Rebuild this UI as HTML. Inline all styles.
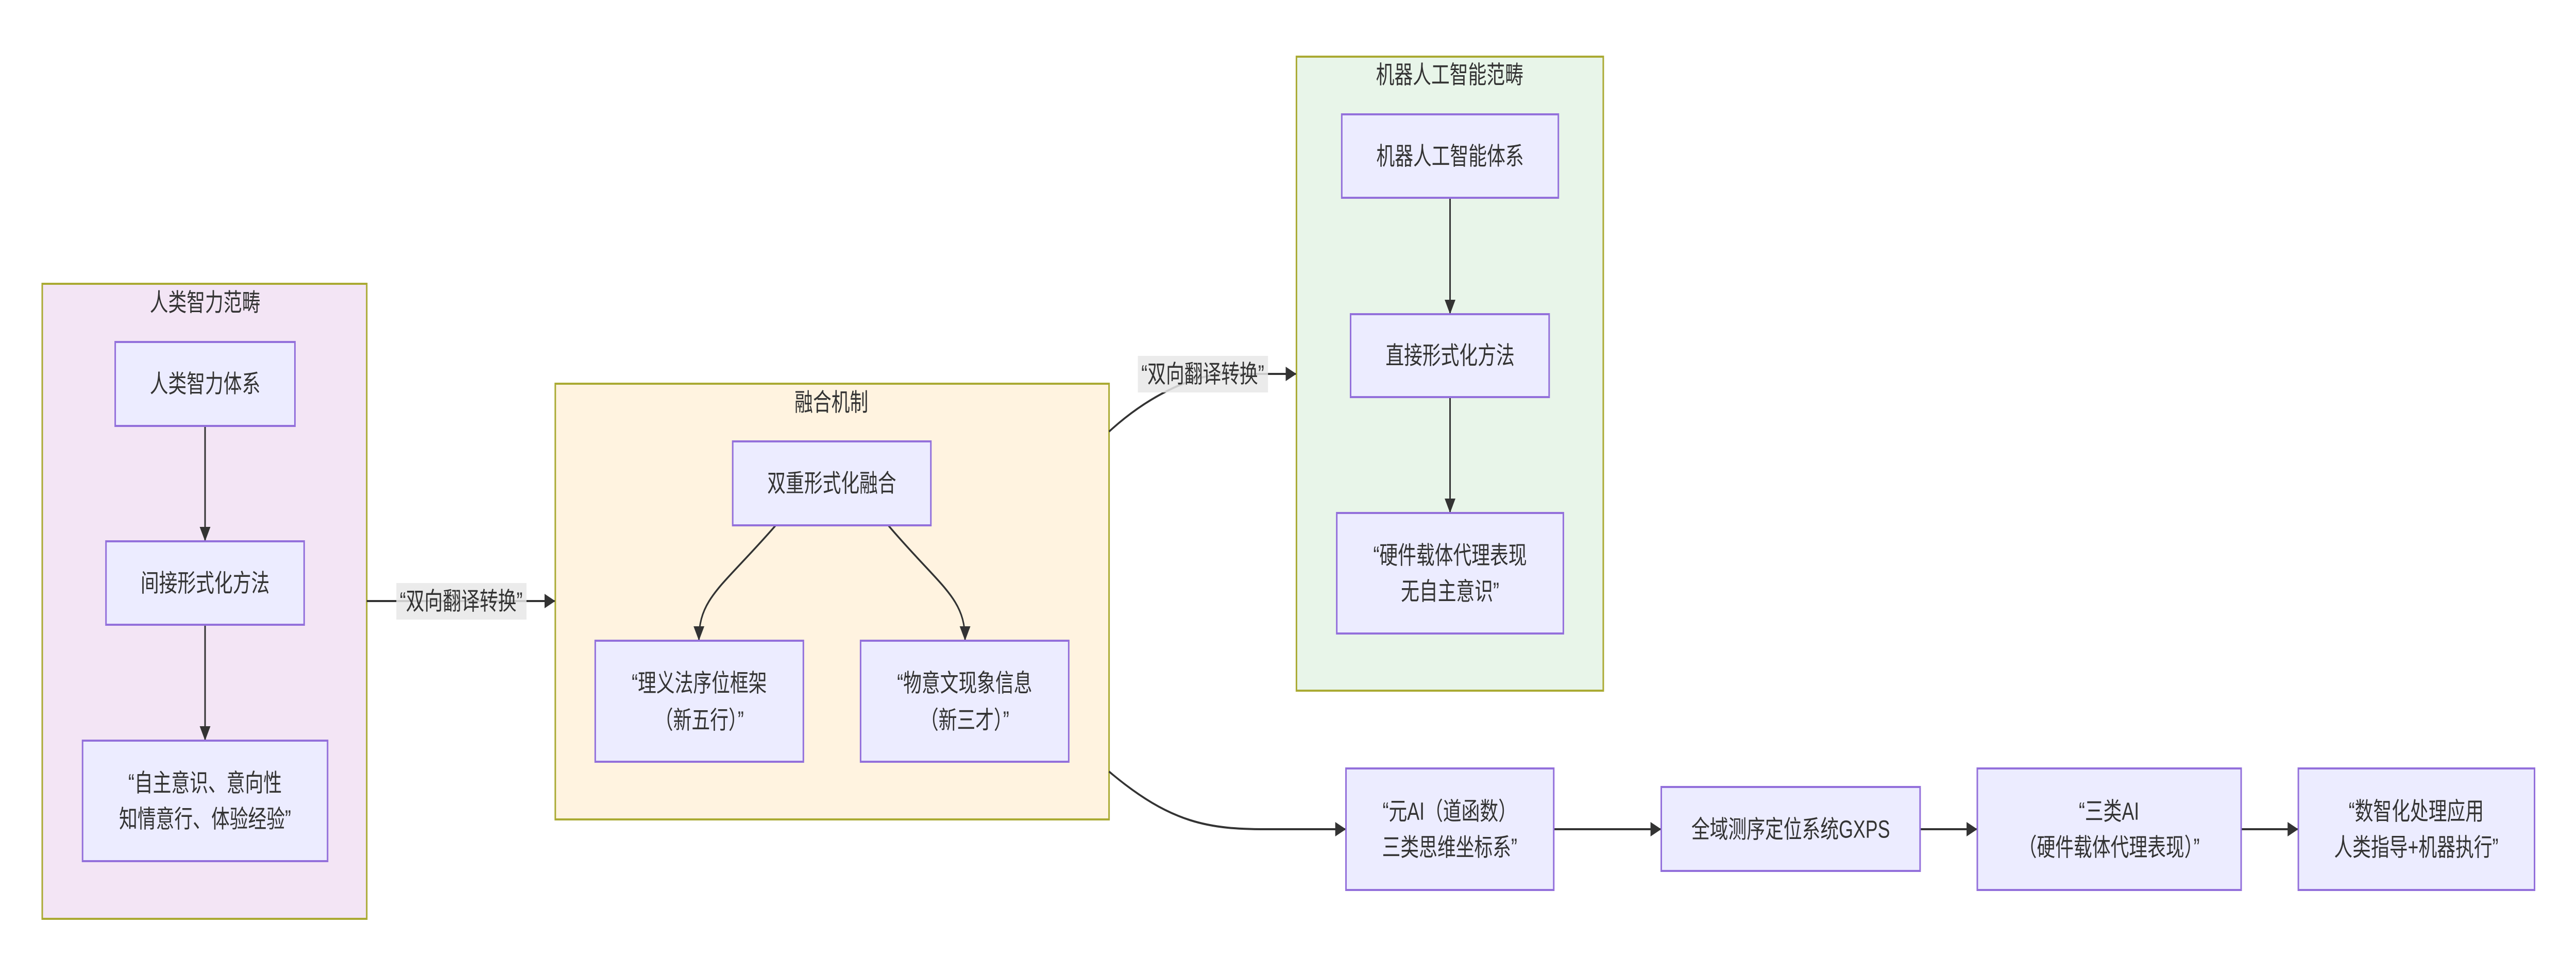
<!DOCTYPE html>
<html><head><meta charset="utf-8"><meta name="viewport" content="width=6708, initial-scale=1"><style>
html,body{margin:0;padding:0;background:#fff;width:100%;height:100%;overflow:hidden;}
svg{display:block;width:100vw;height:100vh;}
text{font-family:"Liberation Sans","Noto Sans CJK SC",sans-serif;fill:#333;font-size:48px;text-anchor:middle;dominant-baseline:central;}
.n{fill:#ECECFF;stroke:#9370DB;stroke-width:4;}
.e{fill:none;stroke:#333;stroke-width:4;}
.lb{fill:rgba(232,232,232,0.85);}
</style></head><body>
<svg viewBox="0 0 6708 1895" preserveAspectRatio="none" xmlns="http://www.w3.org/2000/svg">
<defs>
<marker id="a" markerUnits="userSpaceOnUse" markerWidth="28" markerHeight="28" refX="26" refY="14" orient="auto">
<path d="M0,0 L28,14 L0,28 z" fill="#333"/></marker>
</defs>
<rect x="110" y="551" width="845" height="1233" fill="#F3E5F5" stroke="#AAAA33" stroke-width="4"/>
<text x="534" y="587">人类智力范畴</text>
<rect x="1446" y="745" width="1442" height="846" fill="#FFF3E0" stroke="#AAAA33" stroke-width="4"/>
<text x="2165" y="781">融合机制</text>
<rect x="3376" y="110" width="799" height="1231" fill="#E8F5E9" stroke="#AAAA33" stroke-width="4"/>
<text x="3775" y="145">机器人工智能范畴</text>

<path class="e" d="M534,827 L534,1049" marker-end="url(#a)"/>
<path class="e" d="M534,1213 L534,1436" marker-end="url(#a)"/>
<path class="e" d="M955,1167 L1444,1167" marker-end="url(#a)"/>
<path class="e" d="M2020,1020 C1880,1140 1820,1160 1820,1242" marker-end="url(#a)"/>
<path class="e" d="M2313,1020 C2450,1140 2513,1160 2513,1242" marker-end="url(#a)"/>
<path class="e" d="M3776,384 L3776,608" marker-end="url(#a)"/>
<path class="e" d="M3776,771 L3776,994" marker-end="url(#a)"/>
<path class="e" d="M2888,838 C2980,775 3100,726 3200,726 L3374,726" marker-end="url(#a)"/>
<path class="e" d="M2888,1498 C3050,1600 3150,1610 3300,1610 L3503,1610" marker-end="url(#a)"/>
<path class="e" d="M4046,1610 L4324,1610" marker-end="url(#a)"/>
<path class="e" d="M5000,1610 L5147,1610" marker-end="url(#a)"/>
<path class="e" d="M5836,1610 L5983,1610" marker-end="url(#a)"/>

<rect class="lb" x="1032" y="1132" width="339" height="71"/>
<text x="1201" y="1167">“双向翻译转换”</text>
<rect class="lb" x="2963" y="691" width="339" height="71"/>
<text x="3132" y="726">“双向翻译转换”</text>

<rect class="n" x="300" y="664" width="468" height="163"/>
<text x="534" y="745">人类智力体系</text>
<rect class="n" x="276" y="1051" width="516" height="162"/>
<text x="534" y="1132">间接形式化方法</text>
<rect class="n" x="215" y="1438" width="638" height="234"/>
<text x="534" y="1520">“自主意识、意向性</text>
<text x="534" y="1590">知情意行、体验经验”</text>

<rect class="n" x="1908" y="857" width="516" height="163"/>
<text x="2166" y="938">双重形式化融合</text>
<rect class="n" x="1550" y="1244" width="542" height="235"/>
<text x="1821" y="1326">“理义法序位框架</text>
<text x="1821" y="1398">（新五行）”</text>
<rect class="n" x="2241" y="1244" width="542" height="235"/>
<text x="2512" y="1326">“物意文现象信息</text>
<text x="2512" y="1398">（新三才）”</text>

<rect class="n" x="3494" y="222" width="564" height="162"/>
<text x="3776" y="303">机器人工智能体系</text>
<rect class="n" x="3517" y="610" width="517" height="161"/>
<text x="3776" y="690">直接形式化方法</text>
<rect class="n" x="3481" y="996" width="590" height="234"/>
<text x="3776" y="1078">“硬件载体代理表现</text>
<text x="3776" y="1148">无自主意识”</text>

<rect class="n" x="3505" y="1492" width="541" height="236"/>
<text x="3775" y="1575">“元AI（道函数）</text>
<text x="3775" y="1645">三类思维坐标系”</text>
<rect class="n" x="4326" y="1528" width="674" height="163"/>
<text x="4663" y="1610">全域测序定位系统GXPS</text>
<rect class="n" x="5149" y="1492" width="687" height="236"/>
<text x="5492" y="1575">“三类AI</text>
<text x="5492" y="1645">（硬件载体代理表现）”</text>
<rect class="n" x="5985" y="1492" width="615" height="236"/>
<text x="6292" y="1575">“数智化处理应用</text>
<text x="6292" y="1645">人类指导+机器执行”</text>
</svg>
</body></html>
